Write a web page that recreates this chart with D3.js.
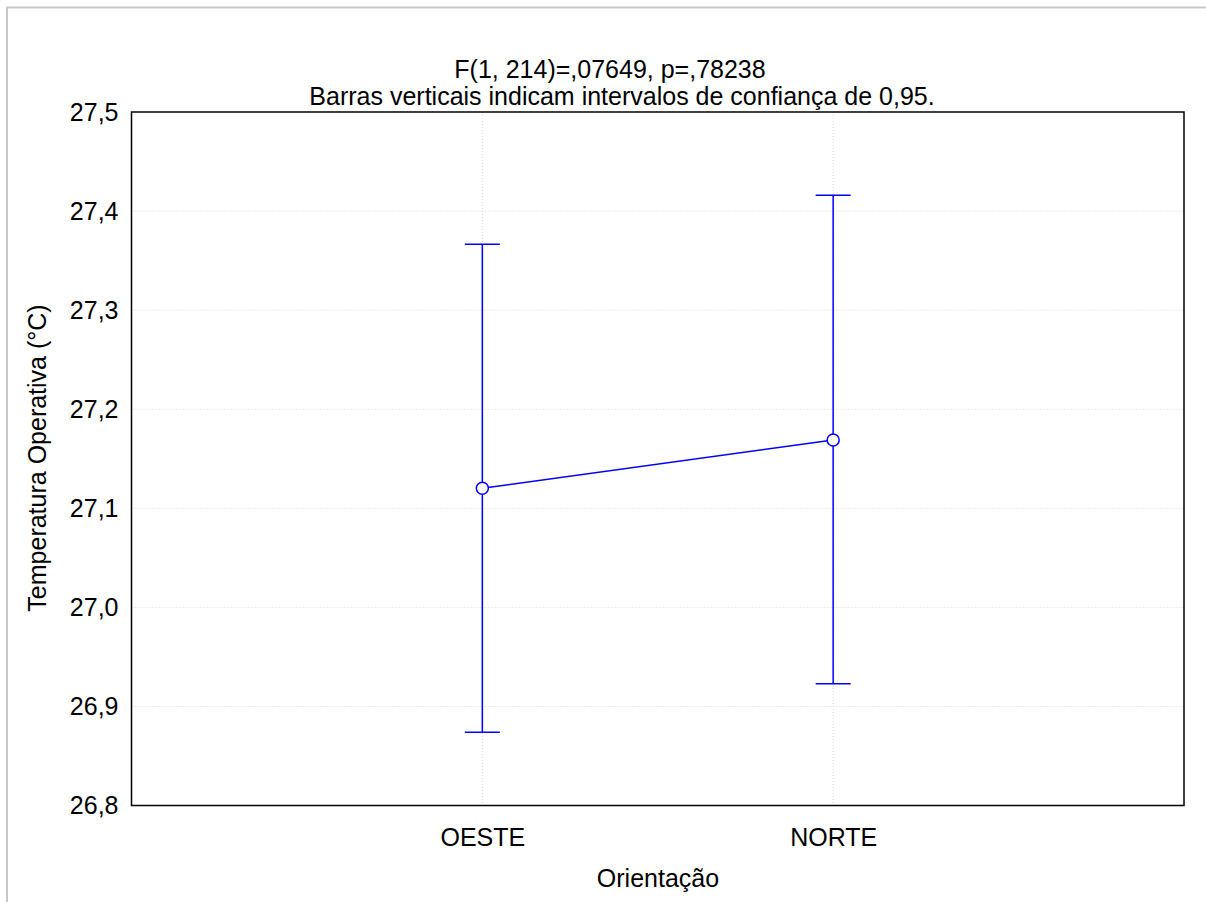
<!DOCTYPE html>
<html>
<head>
<meta charset="utf-8">
<script src="https://cdn.jsdelivr.net/npm/d3@7"></script>
<style>
  html, body { margin: 0; padding: 0; background: #fff; }
  svg { display: block; font-family: "Liberation Sans", Arial, sans-serif; }
</style>
</head>
<body>
<svg id="chart" width="1206" height="902"></svg>
<script>
// Group means with 95% confidence limits
const categories = ["OESTE", "NORTE"];
const means = [27.1202, 27.1689];
const lower = [26.8739, 26.9229];
const upper = [27.3665, 27.4159];
const yTicks = [26.8, 26.9, 27.0, 27.1, 27.2, 27.3, 27.4, 27.5];

const titleLines = [
  "F(1, 214)=,07649, p=,78238",
  "Barras verticais indicam intervalos de confiança de 0,95."
];
const xLabel = "Orientação";
const yLabel = "Temperatura Operativa (°C)";

const W = 1206, H = 902;
const m = { left: 131.5, right: 1184, top: 112, bottom: 805.5 };
const blue = "#0000ff";
const fs = 25;

const svg = d3.select("#chart");

// outer frame
svg.append("rect")
  .attr("x", 7).attr("y", 7.5)
  .attr("width", W + 10).attr("height", H + 10)
  .attr("fill", "none").attr("stroke", "#c8c8c8").attr("stroke-width", 2);

const x = d3.scalePoint().domain(categories).range([m.left, m.right]).padding(1);
const y = d3.scaleLinear().domain([26.8, 27.5]).range([m.bottom, m.top]);

const fmt = v => d3.format(".1f")(v).replace(".", ",");

// grid lines
const grid = svg.append("g");
grid.selectAll("line.h").data(yTicks.slice(1, -1)).join("line")
  .attr("x1", m.left).attr("x2", m.right)
  .attr("y1", d => y(d)).attr("y2", d => y(d))
  .attr("stroke", "#d8d8d8").attr("stroke-width", 1).attr("stroke-dasharray", "1,2");
grid.selectAll("line.v").data(categories).join("line")
  .attr("x1", d => x(d)).attr("x2", d => x(d))
  .attr("y1", m.top).attr("y2", m.bottom)
  .attr("stroke", "#d8d8d8").attr("stroke-width", 1).attr("stroke-dasharray", "1,2");

// axes
const yAxis = d3.axisLeft(y).tickValues(yTicks).tickFormat(fmt).tickSize(0).tickPadding(13);
const gy = svg.append("g").attr("transform", `translate(${m.left},0)`).call(yAxis);
gy.select(".domain").remove();
gy.selectAll("text").attr("font-size", fs).attr("fill", "#000")
  .attr("font-family", '"Liberation Sans", Arial, sans-serif');

const xAxis = d3.axisBottom(x).tickSize(0).tickPadding(23);
const gx = svg.append("g").attr("transform", `translate(0,${m.bottom})`).call(xAxis);
gx.select(".domain").remove();
gx.selectAll("text").attr("font-size", fs).attr("fill", "#000")
  .attr("font-family", '"Liberation Sans", Arial, sans-serif');

// plot frame
svg.append("rect")
  .attr("x", m.left).attr("y", m.top)
  .attr("width", m.right - m.left).attr("height", m.bottom - m.top)
  .attr("fill", "none").attr("stroke", "#000").attr("stroke-width", 1.5);

// error bars
const capHalf = 17.5;
const eb = svg.append("g").attr("stroke", blue).attr("stroke-width", 1.5).attr("fill", "none");
categories.forEach((c, i) => {
  eb.append("line").attr("x1", x(c)).attr("x2", x(c)).attr("y1", y(lower[i])).attr("y2", y(upper[i]));
  eb.append("line").attr("x1", x(c) - capHalf).attr("x2", x(c) + capHalf).attr("y1", y(upper[i])).attr("y2", y(upper[i]));
  eb.append("line").attr("x1", x(c) - capHalf).attr("x2", x(c) + capHalf).attr("y1", y(lower[i])).attr("y2", y(lower[i]));
});

// mean line and markers
const line = d3.line().x((d, i) => x(categories[i])).y(d => y(d));
svg.append("path").datum(means).attr("d", line)
  .attr("fill", "none").attr("stroke", blue).attr("stroke-width", 1.5);
svg.selectAll("circle.mean").data(means).join("circle")
  .attr("cx", (d, i) => x(categories[i])).attr("cy", d => y(d)).attr("r", 6)
  .attr("fill", "#fff").attr("stroke", blue).attr("stroke-width", 1.5);

// titles
const titleX = [610, 622];
svg.selectAll("text.title").data(titleLines).join("text")
  .attr("x", (d, i) => titleX[i]).attr("y", (d, i) => 78 + i * 27)
  .attr("text-anchor", "middle").attr("font-size", fs).attr("fill", "#000")
  .text(d => d);

svg.append("text")
  .attr("x", 658).attr("y", 887)
  .attr("text-anchor", "middle").attr("font-size", fs).attr("fill", "#000")
  .text(xLabel);

svg.append("text")
  .attr("transform", `translate(46,458) rotate(-90)`)
  .attr("text-anchor", "middle").attr("font-size", fs).attr("fill", "#000")
  .text(yLabel);
</script>
</body>
</html>
